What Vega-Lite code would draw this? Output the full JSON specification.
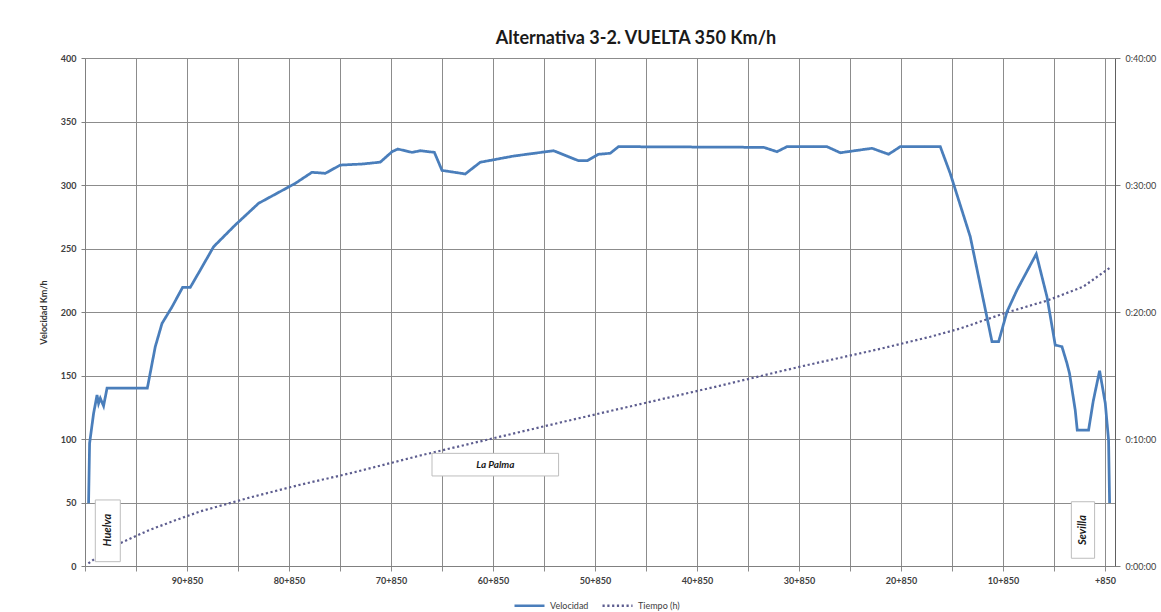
{
  "$schema": "https://vega.github.io/schema/vega-lite/v6.json",
  "width": 1030,
  "height": 508,
  "autosize": {"type": "none"},
  "padding": {"left": 85, "top": 58, "right": 46, "bottom": 46},
  "background": "white",
  "config": {
    "font": "Lato",
    "view": {"stroke": null}
  },
  "title": {
    "text": "Alternativa 3-2. VUELTA 350 Km/h",
    "fontSize": 18,
    "fontWeight": "bold",
    "color": "#1a1a1a",
    "anchor": "middle",
    "dx": 36,
    "offset": 6
  },
  "datasets": {
    "velocidad": [
      {"pk": 100.50, "v": 49.4},
      {"pk": 100.40, "v": 96.6},
      {"pk": 100.01, "v": 120},
      {"pk": 99.67, "v": 134.6},
      {"pk": 99.52, "v": 128},
      {"pk": 99.35, "v": 132},
      {"pk": 99.03, "v": 126},
      {"pk": 98.69, "v": 140},
      {"pk": 94.74, "v": 140},
      {"pk": 93.96, "v": 172.7},
      {"pk": 93.30, "v": 191},
      {"pk": 92.32, "v": 204},
      {"pk": 91.28, "v": 219.4},
      {"pk": 90.53, "v": 219.4},
      {"pk": 89.55, "v": 233},
      {"pk": 88.24, "v": 251.4},
      {"pk": 86.12, "v": 268.5},
      {"pk": 83.83, "v": 285.6},
      {"pk": 82.52, "v": 291.3},
      {"pk": 80.23, "v": 301.3},
      {"pk": 78.60, "v": 310},
      {"pk": 77.29, "v": 309.2},
      {"pk": 75.82, "v": 315.7},
      {"pk": 73.70, "v": 316.5},
      {"pk": 71.90, "v": 318},
      {"pk": 70.75, "v": 326.2},
      {"pk": 70.18, "v": 328.3},
      {"pk": 68.79, "v": 325.7},
      {"pk": 67.98, "v": 327},
      {"pk": 66.60, "v": 325.7},
      {"pk": 65.85, "v": 311.5},
      {"pk": 63.57, "v": 308.7},
      {"pk": 62.10, "v": 317.9},
      {"pk": 58.83, "v": 322.8},
      {"pk": 54.91, "v": 327},
      {"pk": 52.46, "v": 319.1},
      {"pk": 51.63, "v": 319.1},
      {"pk": 50.50, "v": 324.2},
      {"pk": 49.35, "v": 325},
      {"pk": 48.54, "v": 330.2},
      {"pk": 35.63, "v": 329.7},
      {"pk": 34.32, "v": 329.7},
      {"pk": 33.01, "v": 326.2},
      {"pk": 32.03, "v": 330.2},
      {"pk": 28.11, "v": 330.2},
      {"pk": 26.80, "v": 325.4},
      {"pk": 23.69, "v": 328.9},
      {"pk": 22.07, "v": 324.2},
      {"pk": 20.92, "v": 330.2},
      {"pk": 17.00, "v": 330.2},
      {"pk": 16.02, "v": 309},
      {"pk": 14.06, "v": 259.3},
      {"pk": 11.93, "v": 176.6},
      {"pk": 11.28, "v": 176.6},
      {"pk": 10.46, "v": 200.2},
      {"pk": 9.48, "v": 217.3},
      {"pk": 7.59, "v": 245.7},
      {"pk": 6.54, "v": 212},
      {"pk": 5.73, "v": 174},
      {"pk": 5.07, "v": 172.7},
      {"pk": 4.58, "v": 159.6},
      {"pk": 4.33, "v": 151.7},
      {"pk": 3.77, "v": 122.8},
      {"pk": 3.57, "v": 107},
      {"pk": 2.46, "v": 107},
      {"pk": 2.00, "v": 130},
      {"pk": 1.38, "v": 153.8},
      {"pk": 0.82, "v": 128},
      {"pk": 0.50, "v": 99},
      {"pk": 0.40, "v": 49.6}
    ],
    "tiempo": [
      {"pk": 100.52, "t": 0.2},
      {"pk": 99.84, "t": 0.6},
      {"pk": 98.76, "t": 1.2},
      {"pk": 97.39, "t": 1.8},
      {"pk": 94.64, "t": 2.8},
      {"pk": 91.99, "t": 3.6},
      {"pk": 89.55, "t": 4.3},
      {"pk": 84.65, "t": 5.4},
      {"pk": 79.75, "t": 6.4},
      {"pk": 74.85, "t": 7.3},
      {"pk": 67.98, "t": 8.7},
      {"pk": 61.12, "t": 10.0},
      {"pk": 54.25, "t": 11.3},
      {"pk": 46.41, "t": 12.75},
      {"pk": 38.57, "t": 14.2},
      {"pk": 30.72, "t": 15.7},
      {"pk": 22.88, "t": 17.1},
      {"pk": 17.98, "t": 18.05},
      {"pk": 15.04, "t": 18.7},
      {"pk": 10.53, "t": 19.95},
      {"pk": 6.51, "t": 20.9},
      {"pk": 2.98, "t": 22.0},
      {"pk": 0.33, "t": 23.5}
    ],
    "vertical_labels": [
      {"name": "Huelva", "pk": 98.61, "v": 28.3, "pk_a": 99.84, "pk_b": 97.39, "v_a": 3.4, "v_b": 52},
      {"name": "Sevilla", "pk": 3.0, "v": 28.3, "pk_a": 4.15, "pk_b": 1.87, "v_a": 6.1, "v_b": 50.6}
    ],
    "horizontal_labels": [
      {"name": "La Palma", "pk": 60.62, "v": 79.8, "pk_a": 66.83, "pk_b": 54.42, "v_a": 70.9, "v_b": 88.7}
    ]
  },
  "layer": [
    {
      "data": {"name": "tiempo"},
      "mark": {"type": "line", "strokeWidth": 2.2, "strokeCap": "butt"},
      "encoding": {
        "x": {
          "field": "pk", "type": "quantitative",
          "scale": {"domain": [-0.13, 100.85], "reverse": true, "nice": false, "zero": false},
          "axis": {
            "values": [100.85, 95.85, 90.85, 85.85, 80.85, 75.85, 70.85, 65.85, 60.85, 55.85, 50.85, 45.85, 40.85, 35.85, 30.85, 25.85, 20.85, 15.85, 10.85, 5.85, 0.85],
            "labelExpr": "datum.value < 100 && floor(datum.value) % 10 == 0 ? (floor(datum.value) == 0 ? '+850' : floor(datum.value) + '+850') : ''",
            "title": null,
            "grid": true, "gridColor": "#8c8c8c", "gridWidth": 1,
            "domainColor": "#808080", "tickColor": "#8c8c8c", "tickSize": 5,
            "labelFontSize": 9, "labelFontWeight": "bold", "labelColor": "#404040",
            "labelPadding": 5, "labelFlush": false, "labelOverlap": false, "labelBound": false
          }
        },
        "y": {
          "field": "t", "type": "quantitative",
          "scale": {"domain": [0, 40], "nice": false},
          "axis": {
            "orient": "right",
            "values": [0, 10, 20, 30, 40],
            "labelExpr": "'0:' + (datum.value < 10 ? '0' : '') + datum.value + ':00'",
            "title": null, "grid": false,
            "domainColor": "#606060", "tickColor": "#808080", "tickSize": 5,
            "labelFontSize": 9, "labelColor": "#404040", "labelPadding": 5
          }
        },
        "color": {
          "datum": "Tiempo (h)",
          "scale": {"domain": ["Velocidad", "Tiempo (h)"], "range": ["#4a7ebb", "#5d5d8f"]},
          "legend": {
            "title": null, "orient": "none", "direction": "horizontal",
            "legendX": 428, "legendY": 531,
            "symbolType": "stroke", "symbolSize": 900, "symbolStrokeWidth": 2.5,
            "labelFontSize": 9, "labelColor": "#404040", "columnPadding": 8
          }
        },
        "strokeDash": {
          "datum": "Tiempo (h)",
          "scale": {"domain": ["Velocidad", "Tiempo (h)"], "range": [[1, 0], [2.2, 2.6]]},
          "legend": {
            "title": null, "orient": "none", "direction": "horizontal",
            "legendX": 428, "legendY": 531,
            "symbolType": "stroke", "symbolSize": 900, "symbolStrokeWidth": 2.5,
            "labelFontSize": 9, "labelColor": "#404040", "columnPadding": 8
          }
        }
      }
    },
    {
      "layer": [
        {
          "data": {"name": "velocidad"},
          "mark": {"type": "line", "strokeWidth": 2.75},
          "encoding": {
            "x": {"field": "pk", "type": "quantitative", "scale": {"domain": [-0.13, 100.85], "reverse": true, "nice": false, "zero": false}},
            "y": {
              "field": "v", "type": "quantitative",
              "scale": {"domain": [0, 400], "nice": false},
              "axis": {
                "orient": "left",
                "values": [0, 50, 100, 150, 200, 250, 300, 350, 400],
                "title": "Velocidad Km/h", "titleFontSize": 9, "titleFontWeight": "bold", "titleColor": "#333333", "titlePadding": 12,
                "grid": true, "gridColor": "#8c8c8c", "gridWidth": 1,
                "domainColor": "#808080", "tickColor": "#808080", "tickSize": 4,
                "labelFontSize": 9, "labelFontWeight": "bold", "labelColor": "#404040", "labelPadding": 5
              }
            },
            "color": {
              "datum": "Velocidad",
              "scale": {"domain": ["Velocidad", "Tiempo (h)"], "range": ["#4a7ebb", "#5d5d8f"]},
              "legend": null
            },
            "strokeDash": {
              "datum": "Velocidad",
              "scale": {"domain": ["Velocidad", "Tiempo (h)"], "range": [[1, 0], [2.2, 2.6]]},
              "legend": null
            }
          }
        },
        {
          "data": {"name": "vertical_labels"},
          "mark": {"type": "rect", "fill": "white", "stroke": "#bdbdbd", "strokeWidth": 1},
          "encoding": {
            "x": {"field": "pk_a", "type": "quantitative", "scale": {"domain": [-0.13, 100.85], "reverse": true, "nice": false, "zero": false}},
            "x2": {"field": "pk_b"},
            "y": {"field": "v_a", "type": "quantitative", "scale": {"domain": [0, 400], "nice": false}},
            "y2": {"field": "v_b"}
          }
        },
        {
          "data": {"name": "horizontal_labels"},
          "mark": {"type": "rect", "fill": "white", "stroke": "#bdbdbd", "strokeWidth": 1},
          "encoding": {
            "x": {"field": "pk_a", "type": "quantitative", "scale": {"domain": [-0.13, 100.85], "reverse": true, "nice": false, "zero": false}},
            "x2": {"field": "pk_b"},
            "y": {"field": "v_a", "type": "quantitative", "scale": {"domain": [0, 400], "nice": false}},
            "y2": {"field": "v_b"}
          }
        },
        {
          "data": {"name": "vertical_labels"},
          "mark": {"type": "text", "angle": 270, "fontSize": 11, "fontWeight": "bold", "fontStyle": "italic", "color": "#1a1a1a", "align": "center", "baseline": "middle"},
          "encoding": {
            "x": {"field": "pk", "type": "quantitative", "scale": {"domain": [-0.13, 100.85], "reverse": true, "nice": false, "zero": false}},
            "y": {"field": "v", "type": "quantitative", "scale": {"domain": [0, 400], "nice": false}},
            "text": {"field": "name"}
          }
        },
        {
          "data": {"name": "horizontal_labels"},
          "mark": {"type": "text", "fontSize": 10, "fontWeight": "bold", "fontStyle": "italic", "color": "#1a1a1a", "align": "center", "baseline": "middle"},
          "encoding": {
            "x": {"field": "pk", "type": "quantitative", "scale": {"domain": [-0.13, 100.85], "reverse": true, "nice": false, "zero": false}},
            "y": {"field": "v", "type": "quantitative", "scale": {"domain": [0, 400], "nice": false}},
            "text": {"field": "name"}
          }
        }
      ]
    }
  ],
  "resolve": {"scale": {"y": "independent"}}
}
